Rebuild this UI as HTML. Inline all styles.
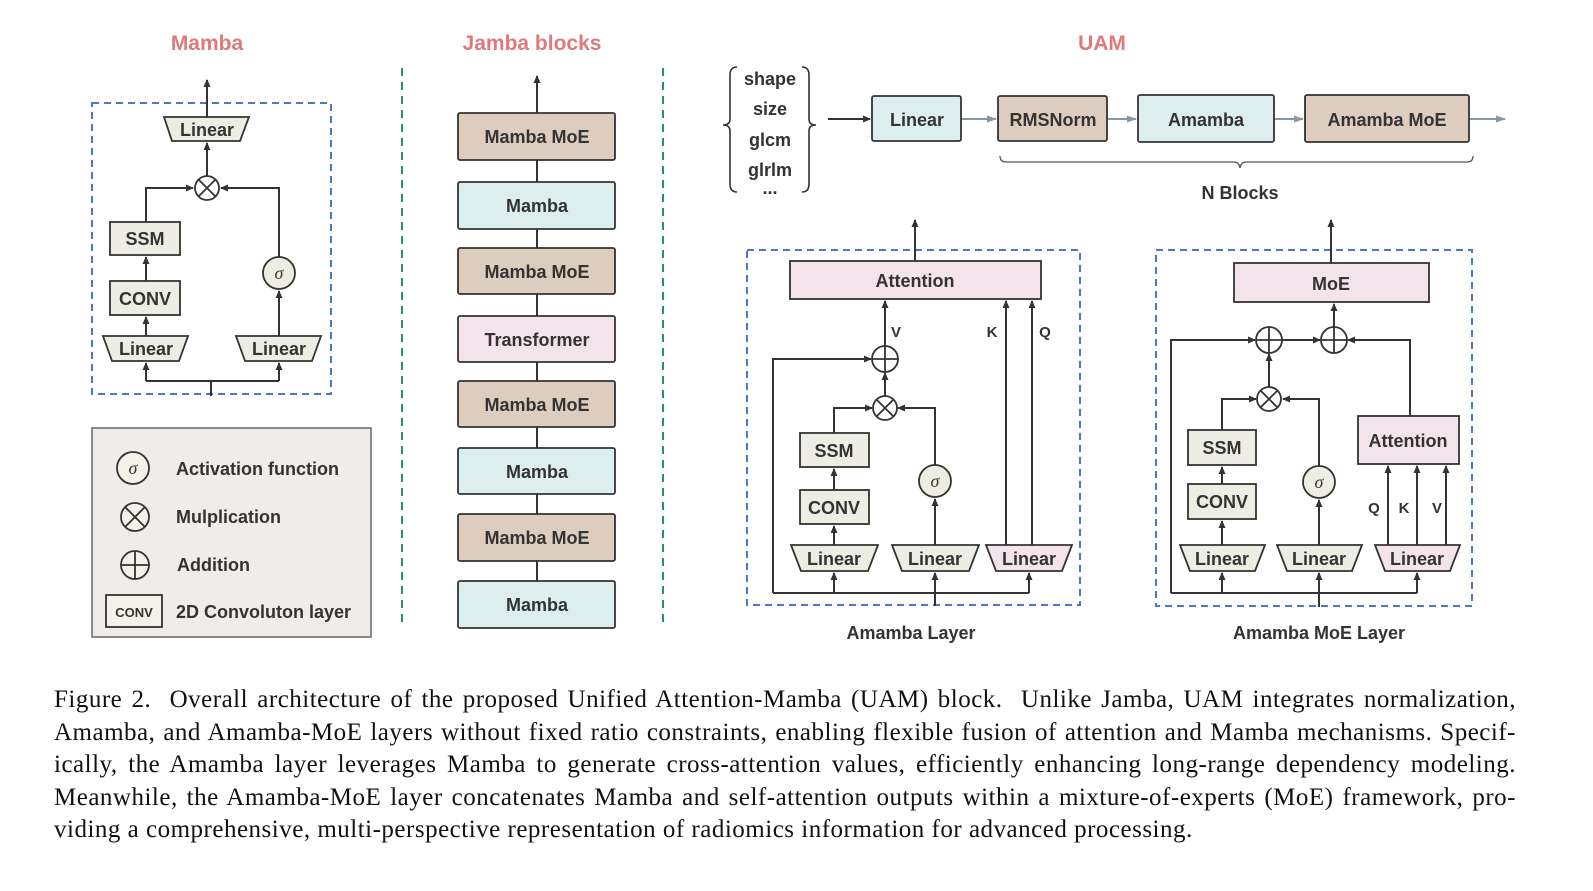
<!DOCTYPE html>
<html><head><meta charset="utf-8"><style>
body{margin:0;background:#fff;width:1593px;height:891px;overflow:hidden;position:relative}
svg{position:absolute;left:0;top:0}
.cap{position:absolute;left:54px;width:1462px;font-family:"Liberation Serif",serif;font-size:25px;letter-spacing:0.5px;color:#111;white-space:nowrap}
.j{text-align:justify;text-align-last:justify;white-space:normal}
text{font-family:"Liberation Sans",sans-serif;font-weight:bold;fill:#333;font-size:18px}
</style></head><body>
<svg width="1593" height="891" viewBox="0 0 1593 891">
<defs>
<marker id="a" markerWidth="8" markerHeight="8" refX="7" refY="4" orient="auto" markerUnits="userSpaceOnUse"><path d="M0,0.5 L8,4 L0,7.5 z" fill="#333"/></marker>
<marker id="g" markerWidth="10" markerHeight="8" refX="9" refY="4" orient="auto" markerUnits="userSpaceOnUse"><path d="M0,0.5 L10,4 L0,7.5 z" fill="#8a96a0"/></marker>
</defs>
<g text-anchor="middle">
<text x="207" y="50" style="fill:#e07a7a;font-size:21px">Mamba</text>
<text x="532" y="50" style="fill:#e07a7a;font-size:21px">Jamba blocks</text>
<text x="1102" y="50" style="fill:#e07a7a;font-size:21px">UAM</text>
</g>
<g stroke="#2e8b77" stroke-width="2" stroke-dasharray="8,6"><line x1="402" y1="68" x2="402" y2="628"/><line x1="663" y1="68" x2="663" y2="628"/></g>
<g fill="none" stroke="#4f76c9" stroke-width="2" stroke-dasharray="7,5">
<rect x="92" y="103" width="239" height="291"/>
<rect x="747" y="250" width="333" height="355"/>
<rect x="1156" y="250" width="316" height="356"/>
</g>
<g stroke="#333" stroke-width="2" fill="none">
<line x1="207" y1="117" x2="207" y2="80" marker-end="url(#a)"/>
<line x1="207" y1="176" x2="207" y2="143" marker-end="url(#a)"/>
<polyline points="146,222 146,188 193,188" marker-end="url(#a)"/>
<polyline points="279,257 279,188 221,188" marker-end="url(#a)"/>
<line x1="146" y1="281" x2="146" y2="257" marker-end="url(#a)"/>
<line x1="146" y1="336" x2="146" y2="317" marker-end="url(#a)"/>
<line x1="279" y1="336" x2="279" y2="291" marker-end="url(#a)"/>
<polyline points="146,381 146,363" marker-end="url(#a)"/>
<polyline points="279,381 279,363" marker-end="url(#a)"/>
<line x1="146" y1="381" x2="279" y2="381"/><line x1="211" y1="381" x2="211" y2="396"/>
<line x1="537" y1="628" x2="537" y2="113"/>
<line x1="537" y1="113" x2="537" y2="76" marker-end="url(#a)"/>
<line x1="828" y1="119" x2="870" y2="119" marker-end="url(#a)"/>
<line x1="915" y1="261" x2="915" y2="220" marker-end="url(#a)"/>
<line x1="885" y1="346" x2="885" y2="301" marker-end="url(#a)"/>
<line x1="885" y1="396" x2="885" y2="373" marker-end="url(#a)"/>
<line x1="1006" y1="545" x2="1006" y2="301" marker-end="url(#a)"/>
<line x1="1032" y1="545" x2="1032" y2="301" marker-end="url(#a)"/>
<polyline points="773,593 773,359 871,359" marker-end="url(#a)"/>
<polyline points="834,433 834,408 872,408" marker-end="url(#a)"/>
<polyline points="935,465 935,408 898,408" marker-end="url(#a)"/>
<line x1="834" y1="490" x2="834" y2="469" marker-end="url(#a)"/>
<line x1="834" y1="545" x2="834" y2="526" marker-end="url(#a)"/>
<line x1="935" y1="545" x2="935" y2="499" marker-end="url(#a)"/>
<line x1="773" y1="593" x2="1029" y2="593"/>
<line x1="834" y1="593" x2="834" y2="573" marker-end="url(#a)"/>
<line x1="935" y1="606" x2="935" y2="573" marker-end="url(#a)"/>
<line x1="1029" y1="593" x2="1029" y2="573" marker-end="url(#a)"/>
<line x1="1331" y1="263" x2="1331" y2="220" marker-end="url(#a)"/>
<line x1="1334" y1="327" x2="1334" y2="304" marker-end="url(#a)"/>
<polyline points="1171,593 1171,340 1255,340" marker-end="url(#a)"/>
<line x1="1282" y1="340" x2="1320" y2="340" marker-end="url(#a)"/>
<polyline points="1410,416 1410,340 1348,340" marker-end="url(#a)"/>
<line x1="1269" y1="387" x2="1269" y2="354" marker-end="url(#a)"/>
<polyline points="1222,430 1222,399 1256,399" marker-end="url(#a)"/>
<polyline points="1319,466 1319,399 1283,399" marker-end="url(#a)"/>
<line x1="1222" y1="484" x2="1222" y2="467" marker-end="url(#a)"/>
<line x1="1222" y1="545" x2="1222" y2="521" marker-end="url(#a)"/>
<line x1="1319" y1="545" x2="1319" y2="500" marker-end="url(#a)"/>
<line x1="1388" y1="545" x2="1388" y2="466" marker-end="url(#a)"/>
<line x1="1417" y1="545" x2="1417" y2="466" marker-end="url(#a)"/>
<line x1="1446" y1="545" x2="1446" y2="466" marker-end="url(#a)"/>
<line x1="1171" y1="593" x2="1417" y2="593"/>
<line x1="1222" y1="593" x2="1222" y2="573" marker-end="url(#a)"/>
<line x1="1319" y1="607" x2="1319" y2="573" marker-end="url(#a)"/>
<line x1="1417" y1="593" x2="1417" y2="573" marker-end="url(#a)"/>
</g>
<g stroke="#8a96a0" stroke-width="2"><line x1="961" y1="119" x2="996" y2="119" marker-end="url(#g)"/><line x1="1107" y1="119" x2="1136" y2="119" marker-end="url(#g)"/><line x1="1274" y1="119" x2="1303" y2="119" marker-end="url(#g)"/><line x1="1469" y1="119" x2="1505" y2="119" marker-end="url(#g)"/></g>
<g stroke="#333" stroke-width="1.8">
<g fill="#eeede4">
<polygon points="164,117 249,117 240,141 172,141"/>
<rect x="110" y="222" width="70" height="33"/><rect x="110" y="281" width="70" height="34"/>
<polygon points="103,336 188,336 179,361 112,361"/><polygon points="236,336 321,336 312,361 245,361"/>
<rect x="800" y="433" width="69" height="34"/><rect x="800" y="490" width="69" height="34"/>
<polygon points="791,545 878,545 868,571 801,571"/><polygon points="892,545 979,545 969,571 902,571"/>
<rect x="1188" y="430" width="68" height="35"/><rect x="1188" y="484" width="68" height="35"/>
<polygon points="1180,545 1265,545 1255,571 1190,571"/><polygon points="1277,545 1362,545 1352,571 1287,571"/>
<circle cx="279" cy="273" r="16"/><circle cx="935" cy="481" r="16"/><circle cx="1319" cy="482" r="16"/>
</g>
<g fill="#f3e3ea">
<polygon points="986,545 1072,545 1062,571 996,571"/><polygon points="1375,545 1460,545 1450,571 1385,571"/>
<rect x="790" y="261" width="251" height="38"/><rect x="1234" y="263" width="195" height="39"/><rect x="1358" y="416" width="101" height="48"/>
<rect x="458" y="316" width="157" height="46" rx="2"/>
</g>
<g fill="#dccdbf"><rect x="458" y="113" width="157" height="47" rx="2"/><rect x="458" y="248" width="157" height="46" rx="2"/><rect x="458" y="381" width="157" height="46" rx="2"/><rect x="458" y="514" width="157" height="47" rx="2"/>
<rect x="998" y="96" width="109" height="45" rx="2"/><rect x="1305" y="95" width="164" height="47" rx="2"/></g>
<g fill="#ddeeee"><rect x="458" y="182" width="157" height="47" rx="2"/><rect x="458" y="448" width="157" height="46" rx="2"/><rect x="458" y="581" width="157" height="47" rx="2"/>
<rect x="872" y="96" width="89" height="45" rx="2"/><rect x="1138" y="95" width="136" height="47" rx="2"/></g>
<g fill="#fff">
<circle cx="207" cy="188" r="12"/><circle cx="885" cy="408" r="12"/><circle cx="1269" cy="399" r="12"/>
<circle cx="885" cy="359" r="13"/><circle cx="1269" cy="340" r="13"/><circle cx="1334" cy="340" r="13"/>
</g>
</g>
<g stroke="#333" stroke-width="1.8">
<path d="M199,180 l16,16 M215,180 l-16,16 M877,400 l16,16 M893,400 l-16,16 M1261,391 l16,16 M1277,391 l-16,16"/>
<path d="M872,359 h26 M885,346 v26 M1256,340 h26 M1269,327 v26 M1321,340 h26 M1334,327 v26"/>
</g>
<rect x="92" y="428" width="279" height="209" fill="#efecea" stroke="#666" stroke-width="1.5"/>
<g stroke="#333" stroke-width="1.8" fill="#f3f1ea">
<circle cx="133" cy="468" r="16"/><circle cx="135" cy="517" r="14"/><circle cx="135" cy="565" r="14"/>
<rect x="106" y="595" width="56" height="32"/>
<path d="M125,507 l20,20 M145,507 l-20,20 M121,565 h28 M135,551 v28" fill="none"/>
</g>
<g text-anchor="middle">
<text x="133" y="474" style="font-weight:normal;font-style:italic;font-family:'Liberation Serif',serif;font-size:18px">σ</text>
<text x="279" y="279" style="font-weight:normal;font-style:italic;font-family:'Liberation Serif',serif;font-size:18px">σ</text>
<text x="935" y="487" style="font-weight:normal;font-style:italic;font-family:'Liberation Serif',serif;font-size:18px">σ</text>
<text x="1319" y="488" style="font-weight:normal;font-style:italic;font-family:'Liberation Serif',serif;font-size:18px">σ</text>
</g>
<g style="font-size:18px">
<text x="176" y="475">Activation function</text><text x="176" y="523">Mulplication</text><text x="177" y="571">Addition</text><text x="176" y="618">2D Convoluton layer</text>
</g>
<g text-anchor="middle">
<text x="134" y="617" style="font-size:13px">CONV</text>
<text x="207" y="136">Linear</text><text x="145" y="245">SSM</text><text x="145" y="305">CONV</text>
<text x="146" y="355">Linear</text><text x="279" y="355">Linear</text>
<text x="537" y="143">Mamba MoE</text><text x="537" y="212">Mamba</text><text x="537" y="278">Mamba MoE</text><text x="537" y="346">Transformer</text>
<text x="537" y="411">Mamba MoE</text><text x="537" y="478">Mamba</text><text x="537" y="544">Mamba MoE</text><text x="537" y="611">Mamba</text>
<text x="917" y="126">Linear</text><text x="1053" y="126">RMSNorm</text><text x="1206" y="126">Amamba</text><text x="1387" y="126">Amamba MoE</text>
<text x="770" y="85">shape</text><text x="770" y="115">size</text><text x="770" y="146">glcm</text><text x="770" y="176">glrlm</text><text x="770" y="194">...</text>
<text x="1240" y="199">N Blocks</text>
<text x="915" y="287">Attention</text><text x="834" y="457">SSM</text><text x="834" y="514">CONV</text>
<text x="834" y="565">Linear</text><text x="935" y="565">Linear</text><text x="1029" y="565">Linear</text>
<text x="911" y="639">Amamba Layer</text>
<text x="1331" y="290">MoE</text><text x="1408" y="447">Attention</text><text x="1222" y="454">SSM</text><text x="1222" y="508">CONV</text>
<text x="1222" y="565">Linear</text><text x="1319" y="565">Linear</text><text x="1417" y="565">Linear</text>
<text x="1319" y="639">Amamba MoE Layer</text>
<text x="896" y="337" style="font-size:15px">V</text><text x="992" y="337" style="font-size:15px">K</text><text x="1045" y="337" style="font-size:15px">Q</text>
<text x="1374" y="513" style="font-size:15px">Q</text><text x="1404" y="513" style="font-size:15px">K</text><text x="1437" y="513" style="font-size:15px">V</text>
</g>
<g fill="none" stroke="#333" stroke-width="1.6">
<path d="M737,67 q-7,0 -7,8 v44 q0,6 -7,6 q7,0 7,6 v53 q0,8 7,8"/>
<path d="M802,67 q7,0 7,8 v44 q0,6 7,6 q-7,0 -7,6 v53 q0,8 -7,8"/>
</g>
<path d="M1000,156 q0,6 6,6 h228 q5,0 6,6 q1,-6 6,-6 h221 q6,0 6,-6" fill="none" stroke="#555" stroke-width="1.3"/>
</svg>
<div class="cap j" style="top:686px">Figure 2.&nbsp; Overall architecture of the proposed Unified Attention-Mamba (UAM) block.&nbsp; Unlike Jamba, UAM integrates normalization,</div>
<div class="cap j" style="top:719px">Amamba, and Amamba-MoE layers without fixed ratio constraints, enabling flexible fusion of attention and Mamba mechanisms. Specif-</div>
<div class="cap j" style="top:751px">ically, the Amamba layer leverages Mamba to generate cross-attention values, efficiently enhancing long-range dependency modeling.</div>
<div class="cap j" style="top:784px">Meanwhile, the Amamba-MoE layer concatenates Mamba and self-attention outputs within a mixture-of-experts (MoE) framework, pro-</div>
<div class="cap" style="top:816px">viding a comprehensive, multi-perspective representation of radiomics information for advanced processing.</div>
</body></html>
